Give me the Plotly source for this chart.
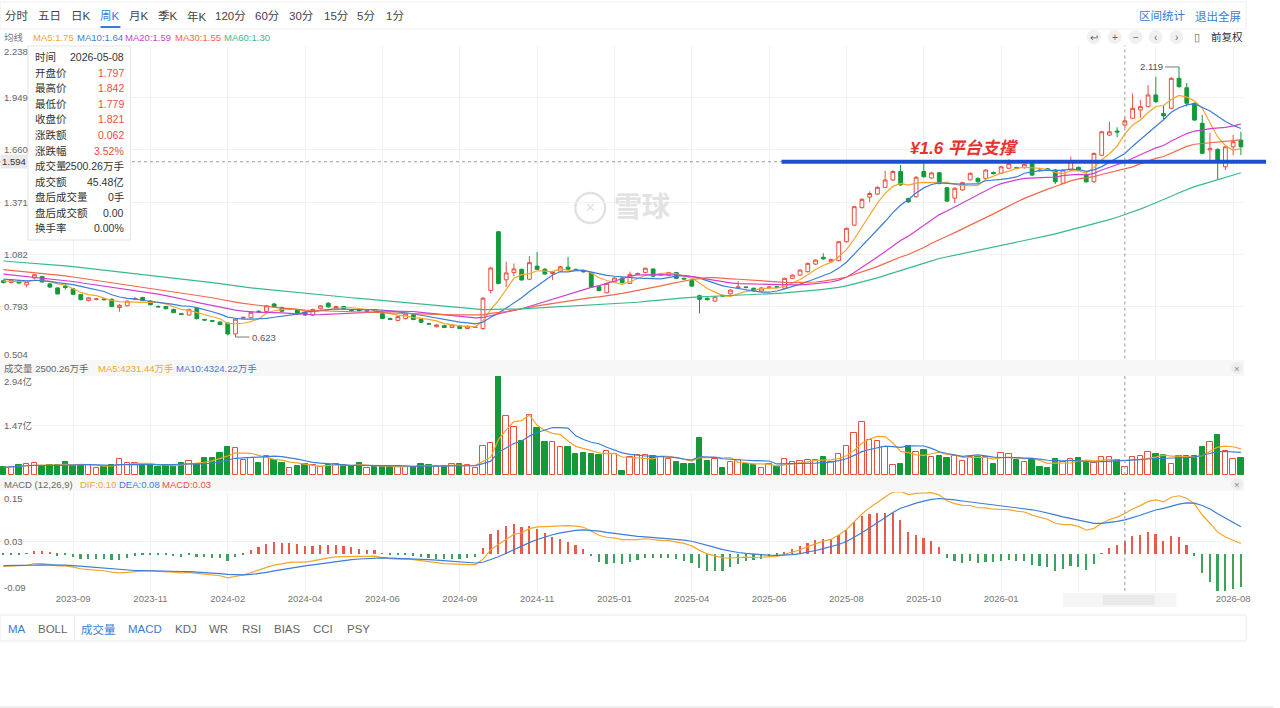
import numpy as np
import pandas as pd
import plotly.graph_objects as go

W, H = 1280, 708

# weekly bars shown in the window (161 weeks)
opens = [
    0.935, 0.925, 0.935, 0.912, 0.950, 0.958, 0.917, 0.895, 0.905, 0.890,
    0.858, 0.826, 0.832, 0.834, 0.832, 0.786, 0.796, 0.832, 0.842, 0.822,
    0.792, 0.792, 0.776, 0.752, 0.745, 0.782, 0.720, 0.714, 0.706, 0.700,
    0.640, 0.728, 0.730, 0.766, 0.765, 0.806, 0.786, 0.776, 0.772, 0.760,
    0.745, 0.780, 0.810, 0.780, 0.792, 0.772, 0.772, 0.764, 0.772, 0.752,
    0.726, 0.715, 0.725, 0.746, 0.720, 0.697, 0.680, 0.686, 0.676, 0.684,
    0.670, 0.676, 0.670, 0.880, 1.206, 0.940, 0.980, 0.998, 0.943, 1.016,
    0.999, 0.975, 0.988, 1.010, 0.998, 0.990, 0.980, 0.902, 0.868, 0.928,
    0.950, 0.920, 0.970, 0.980, 1.000, 0.966, 0.965, 0.980, 0.948, 0.935,
    0.852, 0.838, 0.822, 0.854, 0.862, 0.896, 0.900, 0.893, 0.878, 0.896,
    0.902, 0.893, 0.948, 0.966, 0.985, 1.027, 1.065, 1.040, 1.046, 1.151,
    1.243, 1.340, 1.398, 1.415, 1.452, 1.493, 1.540, 1.390, 1.400, 1.540,
    1.504, 1.533, 1.450, 1.392, 1.438, 1.494, 1.502, 1.502, 1.535, 1.530,
    1.558, 1.562, 1.561, 1.586, 1.548, 1.555, 1.548, 1.475, 1.548, 1.563,
    1.524, 1.483, 1.630, 1.742, 1.764, 1.797, 1.835, 1.881, 1.899, 1.964,
    1.861, 1.890, 2.056, 2.004, 1.918, 1.807, 1.660, 1.663, 1.566, 1.677,
    1.714,
]
highs = [
    0.940, 0.945, 0.940, 0.935, 0.972, 0.962, 0.922, 0.898, 0.920, 0.895,
    0.862, 0.845, 0.838, 0.838, 0.836, 0.805, 0.826, 0.845, 0.846, 0.826,
    0.798, 0.796, 0.780, 0.756, 0.782, 0.788, 0.724, 0.718, 0.710, 0.705,
    0.728, 0.736, 0.764, 0.770, 0.800, 0.812, 0.790, 0.785, 0.776, 0.764,
    0.780, 0.800, 0.816, 0.796, 0.796, 0.778, 0.778, 0.772, 0.778, 0.756,
    0.730, 0.740, 0.754, 0.750, 0.724, 0.702, 0.694, 0.690, 0.694, 0.688,
    0.686, 0.682, 0.845, 1.012, 1.210, 1.040, 1.030, 1.002, 1.072, 1.094,
    1.004, 0.990, 1.016, 1.067, 1.002, 0.994, 0.984, 0.906, 0.925, 0.954,
    0.954, 0.985, 0.980, 1.008, 1.004, 0.975, 0.984, 0.984, 0.952, 0.940,
    0.858, 0.842, 0.850, 0.858, 0.887, 0.933, 0.904, 0.897, 0.899, 0.904,
    0.906, 0.952, 0.970, 0.998, 1.035, 1.053, 1.087, 1.057, 1.155, 1.230,
    1.350, 1.392, 1.430, 1.458, 1.544, 1.546, 1.576, 1.395, 1.514, 1.587,
    1.538, 1.538, 1.455, 1.452, 1.483, 1.536, 1.507, 1.553, 1.540, 1.572,
    1.608, 1.566, 1.585, 1.592, 1.553, 1.560, 1.553, 1.553, 1.622, 1.568,
    1.530, 1.645, 1.765, 1.816, 1.785, 1.842, 1.973, 1.936, 2.019, 2.065,
    1.908, 2.062, 2.119, 2.030, 1.923, 1.853, 1.755, 1.668, 1.682, 1.742,
    1.760,
]
lows = [
    0.920, 0.920, 0.918, 0.898, 0.945, 0.925, 0.895, 0.858, 0.885, 0.855,
    0.826, 0.820, 0.826, 0.826, 0.788, 0.763, 0.792, 0.828, 0.822, 0.798,
    0.786, 0.776, 0.755, 0.744, 0.740, 0.720, 0.712, 0.706, 0.688, 0.632,
    0.623, 0.724, 0.726, 0.758, 0.760, 0.786, 0.762, 0.772, 0.746, 0.740,
    0.740, 0.776, 0.786, 0.776, 0.774, 0.764, 0.764, 0.758, 0.764, 0.722,
    0.716, 0.710, 0.720, 0.716, 0.700, 0.690, 0.676, 0.672, 0.672, 0.666,
    0.666, 0.672, 0.662, 0.865, 0.915, 0.900, 0.960, 0.935, 0.938, 0.995,
    0.968, 0.940, 0.984, 0.994, 0.990, 0.980, 0.896, 0.876, 0.864, 0.924,
    0.920, 0.916, 0.966, 0.976, 0.956, 0.962, 0.960, 0.944, 0.940, 0.900,
    0.754, 0.826, 0.818, 0.846, 0.858, 0.890, 0.892, 0.874, 0.874, 0.892,
    0.894, 0.888, 0.944, 0.962, 0.980, 1.022, 1.050, 1.036, 1.042, 1.146,
    1.238, 1.334, 1.370, 1.410, 1.447, 1.488, 1.460, 1.366, 1.395, 1.505,
    1.498, 1.468, 1.370, 1.365, 1.433, 1.490, 1.478, 1.497, 1.523, 1.525,
    1.553, 1.553, 1.556, 1.514, 1.540, 1.543, 1.470, 1.470, 1.543, 1.543,
    1.478, 1.478, 1.625, 1.737, 1.730, 1.779, 1.830, 1.837, 1.894, 1.920,
    1.825, 1.885, 2.004, 1.900, 1.820, 1.636, 1.604, 1.493, 1.548, 1.631,
    1.631,
]
closes = [
    0.925, 0.940, 0.922, 0.930, 0.968, 0.928, 0.900, 0.862, 0.898, 0.860,
    0.830, 0.840, 0.834, 0.830, 0.792, 0.799, 0.822, 0.836, 0.825, 0.802,
    0.790, 0.780, 0.758, 0.748, 0.775, 0.725, 0.717, 0.711, 0.692, 0.640,
    0.722, 0.732, 0.760, 0.764, 0.796, 0.790, 0.766, 0.780, 0.750, 0.745,
    0.776, 0.796, 0.790, 0.792, 0.778, 0.770, 0.770, 0.768, 0.770, 0.726,
    0.720, 0.736, 0.750, 0.720, 0.705, 0.695, 0.690, 0.676, 0.690, 0.670,
    0.683, 0.679, 0.838, 1.005, 0.920, 0.978, 1.000, 0.939, 1.035, 0.998,
    0.972, 0.985, 1.012, 0.998, 0.995, 0.985, 0.900, 0.880, 0.920, 0.950,
    0.925, 0.970, 0.975, 1.004, 0.960, 0.970, 0.980, 0.948, 0.945, 0.905,
    0.832, 0.830, 0.846, 0.850, 0.883, 0.900, 0.898, 0.878, 0.895, 0.900,
    0.899, 0.948, 0.966, 0.994, 1.031, 1.049, 1.056, 1.053, 1.151, 1.225,
    1.345, 1.386, 1.418, 1.452, 1.493, 1.540, 1.466, 1.372, 1.508, 1.511,
    1.532, 1.474, 1.376, 1.447, 1.478, 1.530, 1.483, 1.548, 1.528, 1.566,
    1.585, 1.558, 1.580, 1.520, 1.545, 1.548, 1.483, 1.548, 1.594, 1.548,
    1.483, 1.640, 1.760, 1.760, 1.759, 1.821, 1.890, 1.899, 1.964, 1.927,
    1.848, 2.056, 2.010, 1.918, 1.825, 1.641, 1.668, 1.604, 1.677, 1.705,
    1.677,
]
# volume in 万手
volumes = [
    2250, 2450, 3000, 3300, 3500, 2250, 3000, 3000, 4000, 2800,
    3100, 3000, 1950, 2450, 3000, 4700, 3500, 3600, 2550, 3000,
    2450, 3000, 3000, 3500, 4100, 3300, 5000, 5000, 6650, 8200,
    7900, 4500, 5000, 3600, 5500, 4500, 3500, 1950, 2550, 3300,
    3000, 2250, 3000, 3300, 3000, 2550, 3500, 1950, 2450, 2550,
    2550, 2550, 2450, 2250, 3300, 3000, 2550, 2550, 3300, 3300,
    3000, 1950, 8700, 9500, 29400, 17400, 14300, 10200, 17800, 14000,
    9900, 9900, 8400, 8200, 6150, 6550, 6150, 5850, 7150, 6350,
    1230, 5300, 5800, 5940, 5740, 5450, 4650, 3960, 3170, 3270,
    11090, 4160, 4750, 1980, 3760, 4460, 3270, 2970, 1980, 3170,
    2280, 4750, 3960, 4160, 4460, 4460, 5350, 3960, 6140, 8710,
    12380, 15840, 10400, 10100, 8220, 2970, 3270, 8710, 6730, 7430,
    5450, 5740, 5150, 5740, 4160, 5450, 5450, 5250, 3170, 6440,
    6140, 4460, 3960, 4460, 2280, 2180, 4800, 3900, 4800, 5085,
    3500, 3700, 5200, 5300, 4456.94, 2500.26, 5250, 5650, 6930, 6140,
    5940, 3270, 5740, 5740, 5740, 8220, 9900, 11880, 7230, 4750,
    4950,
]
# closes of the weeks before the window, estimated from where the MA lines start
warmup_close = [
    1.12, 1.13, 1.11, 1.12, 1.14, 1.13, 1.12, 1.10, 1.11, 1.12,
    1.11, 1.10, 1.09, 1.10, 1.11, 1.09, 1.08, 1.09, 1.10, 1.08,
    1.07, 1.08, 1.06, 1.07, 1.05, 1.06, 1.07, 1.05, 1.04, 1.05,
    1.06, 1.07, 1.05, 1.06, 1.04, 1.05, 1.04, 1.03, 1.04, 1.02,
    1.03, 1.01, 1.02, 1.00, 1.01, 0.99, 1.00, 0.98, 0.99, 0.97,
    0.96, 0.97, 0.95, 0.94, 0.95, 0.94, 0.93, 0.94, 0.93,
]

tick_idx = list(range(9, 161, 10))
tick_text = ['2023-09', '2023-11', '2024-02', '2024-04', '2024-06', '2024-09',
             '2024-11', '2025-01', '2025-04', '2025-06', '2025-08', '2025-10',
             '2026-01', '', '', '2026-08']
price_ticks = [0.504, 0.793, 1.082, 1.371, 1.660, 1.949, 2.238]
vol_ticks = [14700, 29400]
macd_ticks = [-0.09, 0.03, 0.15]

cursor = 145            # bar under the crosshair
cursor_date = '2026-05-08'
cursor_price = 1.594    # crosshair level on the price axis
support_level = 1.594
support_start = 100.6
turnover_text = '45.48亿'

UP, DOWN = '#EA4E3D', '#13993A'
HIST_UP, HIST_DOWN = '#E85A4C', '#3DA35C'
C_MA = {5: '#F5A52A', 10: '#3B7DD8', 20: '#D13FCE', 30: '#F0694B', 60: '#38BA8B'}
BLUE_TXT = '#3A7BD5'
AX = '#666'

n = len(closes)
idx = np.arange(n)
nw = len(warmup_close)
full = pd.Series(warmup_close + closes)
ma = {k: full.rolling(k).mean().iloc[nw:].to_numpy() for k in C_MA}
ema12 = full.ewm(span=12, adjust=False).mean()
ema26 = full.ewm(span=26, adjust=False).mean()
dif_all = ema12 - ema26
dea_all = dif_all.ewm(span=9, adjust=False).mean()
dif = dif_all.iloc[nw:].to_numpy()
dea = dea_all.iloc[nw:].to_numpy()
hist = 2 * (dif - dea)
vol = pd.Series(volumes)
vma5 = vol.rolling(5, min_periods=1).mean().to_numpy()
vma10 = vol.rolling(10, min_periods=1).mean().to_numpy()
up = [c >= o for o, c in zip(opens, closes)]

XR = [-0.45, 160.42]
XD = [0, 1250 / W]


def py(y):
    return 1 - y / H


Y_PRICE = [py(358.5), py(45.5)]
Y_VOL = [py(475), py(376)]
Y_MACD = [py(591), py(492)]

fig = go.Figure()

fig.add_trace(go.Candlestick(
    x=idx, open=opens, high=highs, low=lows, close=closes,
    increasing=dict(line=dict(color=UP, width=1), fillcolor='white'),
    decreasing=dict(line=dict(color=DOWN, width=1), fillcolor=DOWN),
    whiskerwidth=0, hoverinfo='skip', xaxis='x', yaxis='y'))
for k, c in C_MA.items():
    fig.add_trace(go.Scatter(x=idx, y=ma[k], mode='lines', line=dict(color=c, width=1.2),
                             hoverinfo='skip', xaxis='x', yaxis='y'))

fig.add_trace(go.Bar(
    x=idx, y=volumes, width=0.7,
    marker=dict(color=['white' if u else DOWN for u in up],
                line=dict(color=[UP if u else DOWN for u in up], width=1)),
    hoverinfo='skip', xaxis='x2', yaxis='y2'))
fig.add_trace(go.Scatter(x=idx, y=vma5, mode='lines', line=dict(color=C_MA[5], width=1.2),
                         hoverinfo='skip', xaxis='x2', yaxis='y2'))
fig.add_trace(go.Scatter(x=idx, y=vma10, mode='lines', line=dict(color=C_MA[10], width=1.2),
                         hoverinfo='skip', xaxis='x2', yaxis='y2'))

fig.add_trace(go.Bar(
    x=idx, y=hist, width=0.22,
    marker=dict(color=[HIST_UP if v >= 0 else HIST_DOWN for v in hist], line=dict(width=0)),
    hoverinfo='skip', xaxis='x3', yaxis='y3'))
fig.add_trace(go.Scatter(x=idx, y=dif, mode='lines', line=dict(color=C_MA[5], width=1.2),
                         hoverinfo='skip', xaxis='x3', yaxis='y3'))
fig.add_trace(go.Scatter(x=idx, y=dea, mode='lines', line=dict(color=C_MA[10], width=1.2),
                         hoverinfo='skip', xaxis='x3', yaxis='y3'))

xcommon = dict(domain=XD, range=XR, tickmode='array', tickvals=tick_idx, ticktext=tick_text,
               showgrid=True, gridcolor='#F2F2F2', zeroline=False, showline=False, ticks='',
               fixedrange=True)
ycommon = dict(showgrid=True, gridcolor='#F2F2F2', zeroline=False, showline=False,
               showticklabels=False, ticks='', tickmode='array', fixedrange=True)

fig.update_layout(
    width=W, height=H, autosize=False, margin=dict(l=0, r=0, t=0, b=0, pad=0),
    paper_bgcolor='white', plot_bgcolor='white', showlegend=False, bargap=0,
    font=dict(family='Liberation Sans, Noto Sans CJK SC, sans-serif', size=11, color='#333'),
    xaxis=dict(xcommon, anchor='y', showticklabels=False, rangeslider=dict(visible=False)),
    xaxis2=dict(xcommon, anchor='y2', showticklabels=False),
    xaxis3=dict(xcommon, anchor='y3', showticklabels=True,
                tickfont=dict(size=9.5, color='#777')),
    yaxis=dict(ycommon, domain=Y_PRICE, range=[price_ticks[0], price_ticks[-1]], tickvals=price_ticks),
    yaxis2=dict(ycommon, domain=Y_VOL, range=[0, vol_ticks[-1]], tickvals=vol_ticks),
    yaxis3=dict(ycommon, domain=Y_MACD, range=[macd_ticks[0], macd_ticks[-1]], tickvals=macd_ticks),
)

shapes = []
ann = []


def text(x, y, s, color='#333', size=11, anchor='left', **kw):
    ann.append(dict(x=x / W, y=py(y), xref='paper', yref='paper', text=s, showarrow=False,
                    xanchor=anchor, yanchor='middle', font=dict(color=color, size=size), **kw))


def rect(x0, y0, x1, y1, fill='rgba(0,0,0,0)', line='rgba(0,0,0,0)', lw=1, layer='below'):
    shapes.append(dict(type='rect', xref='paper', yref='paper', x0=x0 / W, x1=x1 / W,
                       y0=py(y1), y1=py(y0), fillcolor=fill, line=dict(color=line, width=lw),
                       layer=layer))


def circle(cx, cy, r, fill='#F0F0F0', line='rgba(0,0,0,0)', lw=1):
    shapes.append(dict(type='circle', xref='paper', yref='paper', x0=(cx - r) / W, x1=(cx + r) / W,
                       y0=py(cy + r), y1=py(cy - r), fillcolor=fill, line=dict(color=line, width=lw),
                       layer='below'))


# top toolbar
rect(0, 2, 1252, 29, line='#EEEEEE')
tabs = [('分时', 17), ('五日', 50), ('日K', 81), ('周K', 111), ('月K', 140), ('季K', 169),
        ('年K', 198), ('120分', 232), ('60分', 269), ('30分', 303), ('15分', 338),
        ('5分', 368), ('1分', 397)]
for s, x in tabs:
    text(x, 16, s, color=BLUE_TXT if s == '周K' else '#444', size=11.5, anchor='center')
shapes.append(dict(type='line', xref='paper', yref='paper', x0=101 / W, x1=121 / W,
                   y0=py(27), y1=py(27), line=dict(color=BLUE_TXT, width=2)))
text(1168, 16, '区间统计', color=BLUE_TXT, size=11.5, anchor='center')
text(1224, 16, '退出全屏', color=BLUE_TXT, size=11.5, anchor='center')

# MA legend row
text(2, 37, '均线', color='#777', size=9.5)
ma_x = {5: 31, 10: 75, 20: 124, 30: 174, 60: 223}
for k, c in C_MA.items():
    text(ma_x[k], 37, f'MA{k}:{ma[k][cursor]:.2f}', color=c, size=9.5)

# right-hand buttons
for s, x in [('↩', 1099), ('+', 1120), ('−', 1141), ('‹', 1161), ('›', 1182)]:
    circle(x, 37, 7)
    text(x, 37, s, color='#666', size=10, anchor='center')
text(1203, 37, '▯', color='#666', size=11, anchor='center')
text(1233, 37, '前复权', color='#333', size=10.5, anchor='center')

# price axis labels (inside)
for v in price_ticks:
    shift = -6 if v == price_ticks[-1] else (4 if v == price_ticks[0] else 0)
    ann.append(dict(x=2 / W, xref='paper', y=v, yref='y', yshift=shift, text=f'{v:.3f}',
                    showarrow=False, xanchor='left', yanchor='middle',
                    font=dict(color=AX, size=9.5)))

# crosshair
shapes.append(dict(type='line', xref='x domain', yref='y', x0=0, x1=1, y0=cursor_price,
                   y1=cursor_price, line=dict(color='#9A9A9A', width=1, dash='dot')))
for yr in ['y domain', 'y2 domain', 'y3 domain']:
    shapes.append(dict(type='line', xref='x', yref=yr, x0=cursor, x1=cursor, y0=0, y1=1,
                       line=dict(color='#9A9A9A', width=1, dash='dot')))
ann.append(dict(x=0, xref='paper', y=cursor_price, yref='y', text=f'{cursor_price:.3f}',
                showarrow=False, xanchor='left', yanchor='middle', bgcolor='#E9E9E9',
                borderpad=1, font=dict(color='#333', size=9.5)))

# support line and label
sx0 = XD[1] * (support_start - XR[0]) / (XR[1] - XR[0])
shapes.append(dict(type='line', xref='paper', yref='y', x0=sx0, x1=1272 / W,
                   y0=support_level, y1=support_level, line=dict(color='#1C4FD3', width=4)))
ann.append(dict(x=124.3, xref='x', y=support_level, yref='y', yshift=13,
                text='<b><i>¥1.6 平台支撑</i></b>', showarrow=False, xanchor='center',
                yanchor='middle', font=dict(color='#E8322C', size=17)))

# max / min markers
hi_i = int(np.argmax(highs))
lo_i = int(np.argmin(lows))
shapes.append(dict(type='line', xref='x', yref='y', x0=hi_i, x1=hi_i - 1.8,
                   y0=highs[hi_i], y1=highs[hi_i], line=dict(color='#777', width=1)))
ann.append(dict(x=hi_i - 1.85, xref='x', y=highs[hi_i], yref='y', text=f'{highs[hi_i]:.3f}',
                showarrow=False, xanchor='right', yanchor='middle', font=dict(color='#555', size=9.5)))
shapes.append(dict(type='line', xref='x', yref='y', x0=lo_i, x1=lo_i + 1.8,
                   y0=lows[lo_i], y1=lows[lo_i], line=dict(color='#777', width=1)))
ann.append(dict(x=lo_i + 1.85, xref='x', y=lows[lo_i], yref='y', text=f'{lows[lo_i]:.3f}',
                showarrow=False, xanchor='left', yanchor='middle', font=dict(color='#555', size=9.5)))

# tooltip box
rect(28, 46, 131, 240, fill='white', line='#E4E4E4', layer='above')
prev = closes[cursor - 1]
chg = closes[cursor] - prev
rows = [
    ('时间', cursor_date, '#333'),
    ('开盘价', f'{opens[cursor]:.3f}', UP),
    ('最高价', f'{highs[cursor]:.3f}', UP),
    ('最低价', f'{lows[cursor]:.3f}', UP),
    ('收盘价', f'{closes[cursor]:.3f}', UP),
    ('涨跌额', f'{chg:.3f}', UP),
    ('涨跌幅', f'{chg / prev * 100:.2f}%', UP),
    ('成交量', f'{volumes[cursor]:.2f}万手', '#333'),
    ('成交额', turnover_text, '#333'),
    ('盘后成交量', '0手', '#333'),
    ('盘后成交额', '0.00', '#333'),
    ('换手率', '0.00%', '#333'),
]
for r, (lab, val, col) in enumerate(rows):
    y = 57.3 + r * 15.55
    text(33, y, lab, color='#333', size=10.5)
    text(127, y, val, color=col, size=10.5, anchor='right')

# watermark
circle(593, 208, 15, fill='rgba(0,0,0,0)', line='#E2E2E2', lw=2.5)
text(593, 208, '✕', color='#E2E2E2', size=13, anchor='center')
text(645, 208, '<b>雪球</b>', color='#E2E2E2', size=28, anchor='center')

# volume header
rect(0, 360, 1250, 376, fill='#F7F7F7')
text(2, 368, f'成交量 {volumes[cursor]:.2f}万手', color=AX, size=9.5)
text(96, 368, f'MA5:{vma5[cursor]:.2f}万手', color=C_MA[5], size=9.5)
text(175, 368, f'MA10:{vma10[cursor]:.2f}万手', color=C_MA[10], size=9.5)
circle(1243, 368, 6, fill='#EDEDED')
text(1243, 368, '×', color='#888', size=9.5, anchor='center')
for v in vol_ticks:
    ann.append(dict(x=2 / W, xref='paper', y=v, yref='y2', yshift=-5 if v == vol_ticks[-1] else 0,
                    text=f'{v / 10000:.2f}亿', showarrow=False, xanchor='left', yanchor='middle',
                    font=dict(color=AX, size=9.5)))

# MACD header
rect(0, 477, 1250, 491, fill='#F7F7F7')
text(2, 484, 'MACD (12,26,9)', color=AX, size=9.5)
text(78, 484, f'DIF:{dif[cursor]:.2f}', color=C_MA[5], size=9.5)
text(118, 484, f'DEA:{dea[cursor]:.2f}', color=C_MA[10], size=9.5)
text(161, 484, f'MACD:{hist[cursor]:.2f}', color=UP, size=9.5)
circle(1243, 484, 6, fill='#EDEDED')
text(1243, 484, '×', color='#888', size=9.5, anchor='center')
for v in macd_ticks:
    shift = -6 if v == macd_ticks[-1] else (4 if v == macd_ticks[0] else 0)
    ann.append(dict(x=2 / W, xref='paper', y=v, yref='y3', yshift=shift, text=f'{v:.2f}',
                    showarrow=False, xanchor='left', yanchor='middle',
                    font=dict(color=AX, size=9.5)))

# blurred date labels under the axis (as in the screenshot)
rect(1068, 593, 1182, 607, fill='#F5F5F5')
rect(1108, 595, 1160, 605, fill='#E9E9E9')

# indicator tabs at the bottom
rect(0, 615, 1252, 641, line='#ECECEC')
shapes.append(dict(type='line', xref='paper', yref='paper', x0=75 / W, x1=75 / W,
                   y0=py(640), y1=py(616), line=dict(color='#ECECEC', width=1)))
for s, x, on in [('MA', 17, True), ('BOLL', 53, False), ('成交量', 99, True), ('MACD', 146, True),
                 ('KDJ', 187, False), ('WR', 220, False), ('RSI', 253, False),
                 ('BIAS', 289, False), ('CCI', 325, False), ('PSY', 360, False)]:
    text(x, 629, s, color=BLUE_TXT if on else '#666', size=11.5, anchor='center')
shapes.append(dict(type='line', xref='paper', yref='paper', x0=0, x1=1,
                   y0=py(707), y1=py(707), line=dict(color='#E0E0E0', width=1)))

fig.update_layout(shapes=shapes, annotations=ann)

fig.write_html("out.html", config={'displayModeBar': False, 'responsive': False},
               post_script="document.documentElement.style.margin='0px';"
                           "document.documentElement.style.overflow='hidden';"
                           "document.body.style.margin='0px';"
                           "document.body.style.overflow='hidden';")
